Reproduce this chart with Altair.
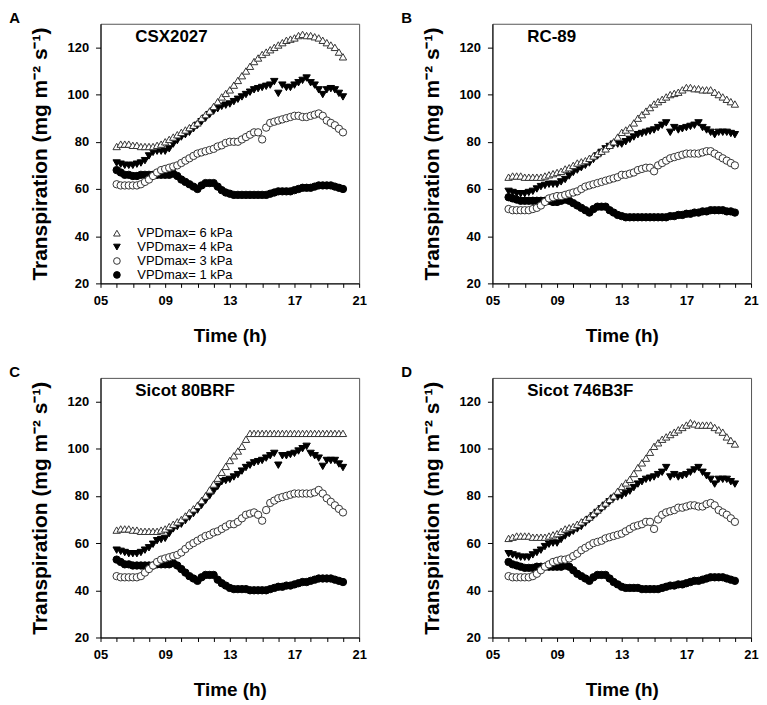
import altair as alt
import pandas as pd

# sampling times (h), every 15 min from 06:00 to 20:00
times = [6.0, 6.25, 6.5, 6.75, 7.0, 7.25, 7.5, 7.75, 8.0, 8.25, 8.5, 8.75,
         9.0, 9.25, 9.5, 9.75, 10.0, 10.25, 10.5, 10.75, 11.0, 11.25, 11.5, 11.75,
         12.0, 12.25, 12.5, 12.75, 13.0, 13.25, 13.5, 13.75, 14.0, 14.25, 14.5, 14.75,
         15.0, 15.25, 15.5, 15.75, 16.0, 16.25, 16.5, 16.75, 17.0, 17.25, 17.5, 17.75,
         18.0, 18.25, 18.5, 18.75, 19.0, 19.25, 19.5, 19.75, 20.0]

panel_letters = ["A", "B", "C", "D"]
cultivars = ["CSX2027", "RC-89", "Sicot 80BRF", "Sicot 746B3F"]
series_names = ["VPDmax= 6 kPa", "VPDmax= 4 kPa", "VPDmax= 3 kPa", "VPDmax= 1 kPa"]
series_shapes = ["triangle-up", "triangle-down", "circle", "circle"]
series_fills = ["white", "black", "white", "black"]
series_strokes = ["#333333", "black", "#333333", "black"]
draw_order = [4, 2, 3, 1]  # 1 = drawn first

x_tick_values = [5, 9, 13, 17, 21]
x_tick_labels = ["05", "09", "13", "17", "21"]
x_minor_ticks = [5, 6, 7, 8, 9, 10, 11, 12, 13, 14, 15, 16, 17, 18, 19, 20, 21]
y_tick_values = [20, 40, 60, 80, 100, 120]

# ---- A: CSX2027 ----
a_6 = [78, 79, 79, 79, 78.5, 78.5, 78, 78, 78, 78, 78.5, 79,
       80, 81, 82, 83, 84, 85, 86, 87, 88, 90, 91.5, 93,
       95, 97, 99, 100.5, 102, 104, 106, 108, 110, 112, 114, 115.5,
       117, 118, 119, 120, 121, 122, 123, 123.5, 124, 125, 125.5, 125,
       125, 124.5, 124, 123, 122, 121, 120, 118, 116]
a_4 = [71, 70.5, 70, 70, 70, 70.5, 71, 72, 74, 75.5, 76, 76,
       76, 77, 79, 80.5, 82, 83, 84, 85.5, 87, 88.5, 90, 91.5,
       93, 94, 95, 95.5, 96, 97, 98, 99, 100, 101, 102, 102.5,
       103, 103.5, 104, 105.5, 100.5, 104, 103, 103, 104, 105, 106, 107,
       105, 104, 102, 100, 102, 102.5, 102, 100.5, 99]
a_3 = [62, 61.5, 61.5, 61.5, 61.5, 61.5, 62, 63, 64, 65.5, 67, 68,
       68.5, 69, 69.5, 70, 71, 72, 73, 74, 75, 75.5, 76, 76.5,
       77, 78, 78.5, 79.5, 80, 80, 80, 81, 82, 83, 84, 84,
       81, 86, 88, 88.5, 89, 89.5, 90, 90.5, 91, 91, 90.5, 90.5,
       91, 91.5, 92, 91, 89, 88, 87, 85.5, 84]
a_1 = [68, 67, 66, 66, 65.5, 65.5, 66, 66, 66, 66, 66, 66,
       66, 66, 66.5, 65.5, 64, 63, 62, 61, 60, 61.5, 62.5, 62.5,
       62.5, 61, 59.5, 58.5, 58, 57.5, 57.5, 57.5, 57.5, 57.5, 57.5, 57.5,
       57.5, 57.5, 58, 58.5, 59, 59, 59, 59, 59.5, 60, 60.5, 60.5,
       60.5, 61, 61.5, 61.5, 61.5, 61.5, 61, 60.5, 60]

# ---- B: RC-89 ----
b_6 = [65, 65.5, 65.5, 65.5, 65, 65, 65, 65, 65, 65.5, 66, 66.5,
       67, 67.5, 68.5, 69, 70, 71, 71.5, 72, 73, 74, 75, 76,
       77, 78.5, 80, 82, 84, 85, 86, 88, 90, 91.5, 93, 94.5,
       96, 97, 98, 99, 100, 100.5, 101, 102, 103, 103, 102.5, 102.5,
       102, 102, 102, 101, 100, 99, 98, 97, 96]
b_4 = [59, 58.5, 58, 58, 58, 58.5, 59, 60, 61, 61.5, 62, 62,
       62, 63, 64, 65.5, 67, 68, 69, 70, 71, 72.5, 74, 75.5,
       77, 78, 79, 79, 79, 80, 81, 82, 83, 83.5, 84, 84.5,
       85, 86, 87, 88, 84, 86, 85, 85.5, 86, 86.5, 87, 88,
       86, 85, 84, 83, 84, 84, 84, 83.5, 83]
b_3 = [51.5, 51, 51, 51, 51, 51, 51.5, 52, 53, 54.5, 56, 56.5,
       57, 57, 57.5, 58, 58.5, 59, 60, 61, 61.5, 62, 62.5, 63,
       63.5, 64, 64.5, 65, 66, 66, 66.5, 67, 68, 68.5, 69, 69,
       67.5, 70, 71, 72, 73, 73.5, 74, 74.5, 75, 75, 75, 75,
       75.5, 76, 76, 75, 74, 73, 72, 71, 70]
b_1 = [56.5, 56, 55.5, 55, 55, 55, 55, 55, 55, 55, 55, 54.5,
       54.5, 55, 55.5, 55, 54, 53, 52, 51, 50, 51.5, 52.5, 52.5,
       52.5, 51, 50, 49, 48.5, 48, 48, 48, 48, 48, 48, 48,
       48, 48, 48, 48, 48.5, 48.5, 49, 49, 49.5, 49.5, 50, 50,
       50.5, 50.5, 51, 51, 51, 51, 50.5, 50.5, 50]

# ---- C: Sicot 80BRF ----
c_6 = [65.5, 66, 66, 66, 65.5, 65.5, 65, 65, 65, 65, 65, 65.5,
       66, 67, 68, 69, 70, 71.5, 73, 74.5, 76, 78, 80, 82.5,
       85, 87.5, 90, 92.5, 95, 97, 99, 101, 104, 106.5, 106.5, 106.5,
       106.5, 106.5, 106.5, 106.5, 106.5, 106.5, 106.5, 106.5, 106.5, 106.5, 106.5, 106.5,
       106.5, 106.5, 106.5, 106.5, 106.5, 106.5, 106.5, 106.5, 106.5]
c_4 = [57, 56.5, 56, 55.5, 55.5, 55.5, 56, 57, 58, 59.5, 61, 61.5,
       62, 64, 66, 67, 68, 69.5, 71, 72.5, 74, 76, 78, 80,
       82, 84, 86, 86.5, 87, 88, 89, 90.5, 92, 93, 94, 94.5,
       95, 96, 97, 98, 93, 97, 97, 97.5, 98, 99, 100, 101,
       98, 97, 96, 92.5, 95, 95, 95, 93.5, 92]
c_3 = [46, 45.5, 45.5, 45.5, 45.5, 45.5, 46, 47.5, 49, 50.5, 52, 53,
       53.5, 54, 54.5, 55, 56, 57.5, 59, 60, 61, 62, 63, 63.5,
       64.5, 65, 66, 67, 68, 68, 69, 70.5, 72, 72.5, 73, 72,
       69.5, 74, 77, 78, 79, 79.5, 80, 80.5, 81, 81, 81, 81,
       81, 81.5, 82.5, 81, 79, 77.5, 76, 74.5, 73]
c_1 = [53, 52, 51, 51, 50.5, 50.5, 50.5, 50.5, 50.5, 50.5, 51, 51,
       51, 51, 51.5, 50.5, 49, 47.5, 46, 45, 44, 45.5, 46.5, 46.5,
       46.5, 44.5, 43, 42, 41, 40.5, 40.5, 40.5, 40.5, 40, 40, 40,
       40, 40, 40.5, 41, 41.5, 41.5, 42, 42, 42.5, 43, 43.5, 43.5,
       44, 44.5, 45, 45, 45, 45, 44.5, 44, 43.5]

# ---- D: Sicot 746B3F ----
d_6 = [62, 62.5, 63, 63, 63, 63, 62.5, 62.5, 62.5, 62.5, 63, 63.5,
       64, 65, 66, 66.5, 67, 68, 69, 70, 71, 72.5, 74, 75.5,
       77, 78.5, 80, 82, 84, 85.5, 87, 89.5, 92, 94, 96, 98.5,
       101, 102.5, 104, 105, 106, 107, 108, 109, 110, 111, 110.5, 110,
       110, 110, 110, 109, 108, 107, 105, 103.5, 102]
d_4 = [55.5, 55, 54.5, 54, 54, 54, 55, 56, 57, 58.5, 59.5, 60,
       60, 61.5, 63, 64, 65, 66, 67, 68.5, 70, 71.5, 73, 74.5,
       76, 77.5, 79, 79.5, 80, 81, 82, 83.5, 85, 86, 87, 87.5,
       88, 89, 90, 92, 88, 89, 88, 88.5, 89, 90, 91, 92,
       90, 88.5, 87, 85, 87, 87, 87, 86, 85]
d_3 = [46, 45.5, 45.5, 45.5, 45.5, 45.5, 46, 47, 48.5, 50, 51, 52,
       52.5, 53, 53, 53.5, 54.5, 55.5, 57, 58, 59, 60, 60.5, 61,
       62, 62.5, 63, 63.5, 64, 65, 66, 67, 67.5, 68, 69, 69,
       66, 70, 72, 73, 73.5, 74, 75, 75, 75.5, 76, 76, 75.5,
       75.5, 76.5, 77, 76, 74, 73, 72, 70.5, 69]
d_1 = [52, 51, 50.5, 50, 49.5, 49.5, 49.5, 50, 50, 50, 50, 50,
       50, 50, 50.5, 50, 48.5, 47, 46, 45, 44, 45.5, 46.5, 46.5,
       46.5, 45, 43.5, 42.5, 41.5, 41, 41, 41, 41, 40.5, 40.5, 40.5,
       40.5, 40.5, 41, 41.5, 42, 42, 42.5, 42.5, 43, 43.5, 44, 44,
       44.5, 45, 45.5, 45.5, 45.5, 45.5, 45, 44.5, 44]

panel_series = [
    [a_6, a_4, a_3, a_1],
    [b_6, b_4, b_3, b_1],
    [c_6, c_4, c_3, c_1],
    [d_6, d_4, d_3, d_1],
]

FONT = "Liberation Sans"

label_expr = " : ".join(
    f"datum.value == {v} ? '{l}'" for v, l in zip(x_tick_values, x_tick_labels)
) + " : ''"


def make_panel(i):
    rows = []
    for s_i, name in enumerate(series_names):
        for t, v in zip(times, panel_series[i][s_i]):
            rows.append({"t": t, "v": v, "series": name, "z": draw_order[s_i]})
    df = pd.DataFrame(rows).sort_values("z", kind="stable")

    show_legend = i == 0
    legend = alt.Legend(
        orient="none", legendX=10, legendY=204, title=None,
        labelFontSize=13, labelFont=FONT, labelColor="black",
        symbolSize=45, symbolStrokeWidth=1, rowPadding=-1,
        labelOffset=14, padding=0,
    ) if show_legend else None

    pts = alt.Chart(df).mark_point(filled=True, size=55, strokeWidth=1, opacity=1).encode(
        x=alt.X("t:Q", title="Time (h)",
                scale=alt.Scale(domain=[5, 21], nice=False, zero=False),
                axis=alt.Axis(values=x_minor_ticks, labelExpr=label_expr, tickSize=4,
                              labelFlush=False, labelPadding=7, titlePadding=19, grid=False,
                              labelFontSize=13, labelFontWeight="bold",
                              titleFontSize=19, titleFontWeight="bold")),
        y=alt.Y("v:Q", title="Transpiration (mg m⁻² s⁻¹)",
                scale=alt.Scale(domain=[20, 130], nice=False, zero=False),
                axis=alt.Axis(values=y_tick_values, tickSize=5, labelPadding=7,
                              titlePadding=17, grid=False,
                              labelFontSize=13, labelFontWeight="bold",
                              titleFontSize=21, titleFontWeight="bold")),
        shape=alt.Shape("series:N", scale=alt.Scale(domain=series_names, range=series_shapes), legend=legend),
        fill=alt.Fill("series:N", scale=alt.Scale(domain=series_names, range=series_fills), legend=legend),
        stroke=alt.Stroke("series:N", scale=alt.Scale(domain=series_names, range=series_strokes), legend=legend),
        order=alt.Order("z:Q"),
    )

    name_df = pd.DataFrame({"label": [cultivars[i]]})
    name = alt.Chart(name_df).mark_text(
        align="left", baseline="alphabetic", fontSize=17, fontWeight="bold", font=FONT, color="black"
    ).encode(x=alt.value(35), y=alt.value(18), text="label:N")

    return alt.layer(pts, name).properties(
        width=260, height=261,
        title=alt.TitleParams(panel_letters[i], anchor="start", frame="bounds",
                              fontSize=15, fontWeight="bold", font=FONT, dx=-20, offset=-2),
    )


row1 = alt.hconcat(make_panel(0), make_panel(1), spacing=33)
row2 = alt.hconcat(make_panel(2), make_panel(3), spacing=33)
chart = alt.vconcat(row1, row2, spacing=18).resolve_scale(
    shape="independent", fill="independent", stroke="independent"
).properties(padding={"left": 0, "top": 0, "right": 0, "bottom": 0}).configure(
    font=FONT
).configure_view(
    stroke="#555555", strokeWidth=1
).configure_axis(
    domainColor="black", tickColor="black", labelColor="black", titleColor="black",
    labelFont=FONT, titleFont=FONT
)

chart.save("out.html", embed_options={"renderer": "svg", "actions": False})
